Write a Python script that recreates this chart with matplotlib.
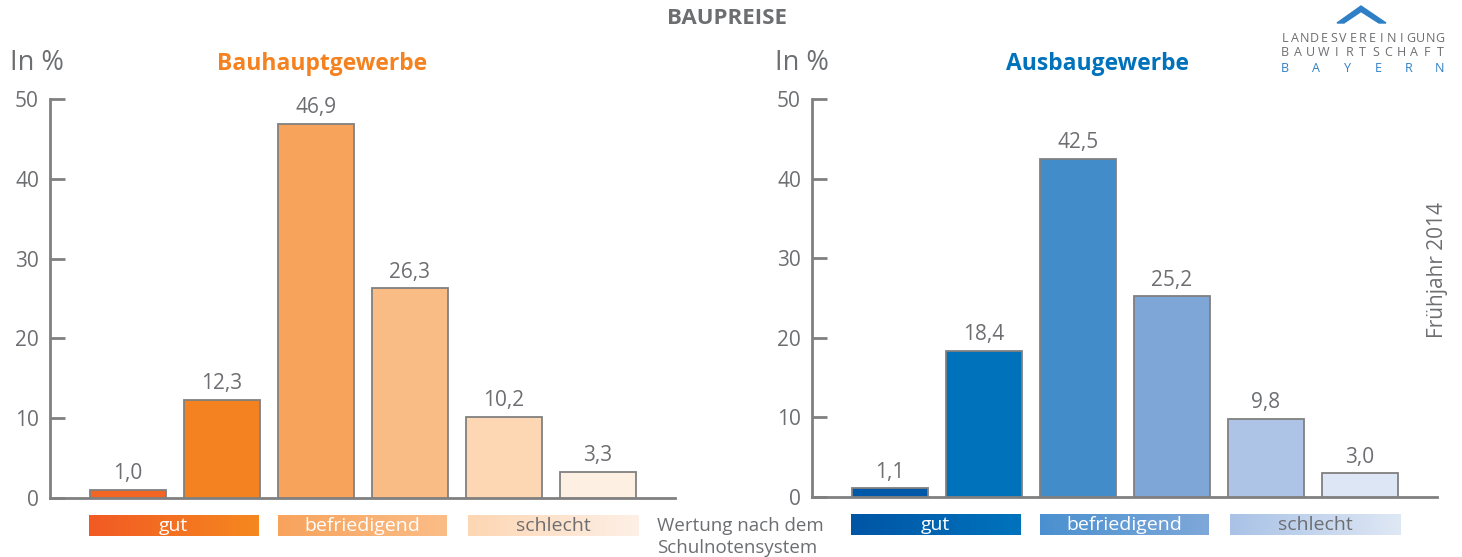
import numpy as np
import matplotlib
matplotlib.use("Agg")
import matplotlib.pyplot as plt
from matplotlib.colors import LinearSegmentedColormap
from matplotlib.patches import Polygon

plt.rcParams['font.family'] = ['Open Sans', 'DejaVu Sans']

# =========================
# DATA
# =========================
werte_haupt = [1.0, 12.3, 46.9, 26.3, 10.2, 3.3]
werte_ausbau = [1.1, 18.4, 42.5, 25.2, 9.8, 3.0]

farben_haupt = ["#f26522", "#f58220", "#f7a35c", "#f9bc85", "#fdd6b3", "#feefe3"]
farben_ausbau = ["#0058a8", "#0072bc", "#428cca", "#7ea7d8", "#adc4e6", "#dde6f4"]

kategorien = ["gut", "befriedigend", "schlecht"]
verlauf_haupt = [("#f15a24", "#f6881f"), ("#f7a35c", "#fbbd87"), ("#fdd6b3", "#fef0e6")]
verlauf_ausbau = [("#0055a5", "#0073bd"), ("#4a90d0", "#7ea8d9"), ("#a9c2e6", "#dfe8f5")]
text_farben = ["white", "white", "#6d6e71"]

yticks = [0, 10, 20, 30, 40, 50]

GRAU = "#6d6e71"
LINIE = "#808080"

# =========================
# FIGURE
# =========================
fig = plt.figure(figsize=(14.62, 5.57), dpi=100)

overlay = fig.add_axes([0, 0, 1, 1])
overlay.set_xlim(0, 1462)
overlay.set_ylim(557, 0)
overlay.axis("off")


def panel(rect, werte, farben, verlauf):
    ax = fig.add_axes(rect)
    x = np.arange(len(werte))
    ax.bar(x, werte, width=0.8, color=farben, edgecolor=LINIE, linewidth=1.3, zorder=3)
    for xi, v in zip(x, werte):
        ax.annotate(f"{v:.1f}".replace(".", ","), (xi, v), xytext=(0, 4),
                    textcoords="offset points", ha="center", va="bottom",
                    fontsize=15, color=GRAU)

    # legend strips with gradient
    spans = [(-0.42, 1.38), (1.6, 3.39), (3.62, 5.43)]
    for (x0, x1), (c0, c1), name, tc in zip(spans, verlauf, kategorien, text_farben):
        cmap = LinearSegmentedColormap.from_list(name, [c0, c1])
        grad = np.linspace(0, 1, 256).reshape(1, -1)
        ax.imshow(grad, cmap=cmap, extent=(x0, x1, -4.76, -2.13), aspect="auto",
                  clip_on=False, zorder=2)
        ax.text((x0 + x1) / 2, -3.55, name, ha="center", va="center",
                fontsize=14, color=tc, clip_on=False)

    ax.set_xlim(-0.83, 5.82)
    ax.set_ylim(0, 50)
    ax.set_yticks(yticks)
    ax.set_xticks([])
    for s in ["top", "right"]:
        ax.spines[s].set_visible(False)
    for s in ["left", "bottom"]:
        ax.spines[s].set_color(LINIE)
        ax.spines[s].set_linewidth(2)
    ax.tick_params(axis="y", direction="in", length=11, width=2, color=LINIE,
                   labelsize=15, labelcolor=GRAU, pad=8)
    ax.patch.set_alpha(0)
    return ax


panel([50 / 1462, 59 / 557, 625 / 1462, 399 / 557], werte_haupt, farben_haupt, verlauf_haupt)
panel([812 / 1462, 60 / 557, 625 / 1462, 398 / 557], werte_ausbau, farben_ausbau, verlauf_ausbau)

# =========================
# TEXTS
# =========================
overlay.text(727, 18, "BAUPREISE", ha="center", va="center", fontsize=16,
             fontweight="bold", color=GRAU)
overlay.text(10, 63, "In %", ha="left", va="center", fontsize=19.5, color=GRAU)
overlay.text(775, 63, "In %", ha="left", va="center", fontsize=19.5, color=GRAU)
overlay.text(322, 64, "Bauhauptgewerbe", ha="center", va="center", fontsize=16.5,
             fontweight="bold", color="#f58220")
overlay.text(1097, 64, "Ausbaugewerbe", ha="center", va="center", fontsize=16.5,
             fontweight="bold", color="#0072bc")
overlay.text(657, 526, "Wertung nach dem", ha="left", va="center", fontsize=13.5, color=GRAU)
overlay.text(657, 548, "Schulnotensystem", ha="left", va="center", fontsize=13.5, color=GRAU)
overlay.text(1437, 270, "Frühjahr 2014", ha="center", va="center", rotation=90,
             fontsize=15, color=GRAU)

# logo
roof = Polygon([(1337, 23), (1361, 6), (1386, 23), (1379, 23), (1361, 11.5), (1344, 23)],
               closed=True, color="#2e7fc6")
overlay.add_patch(roof)
for word, y, col in [("LANDESVEREINIGUNG", 38, "#6d6e71"),
                     ("BAUWIRTSCHAFT", 53, "#6d6e71"),
                     ("BAYERN", 68, "#2e7fc6")]:
    xs = np.linspace(1285, 1440, len(word))
    for xc, ch in zip(xs, word):
        overlay.text(xc, y, ch, ha="center", va="center", fontsize=9, color=col)

fig.savefig("out.png", dpi=100)
